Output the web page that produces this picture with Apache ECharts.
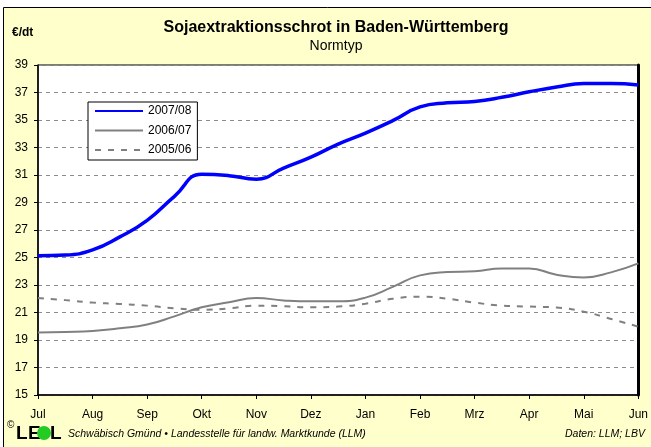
<!DOCTYPE html>
<html>
<head>
<meta charset="utf-8">
<title>Sojaextraktionsschrot</title>
<script src="https://cdn.jsdelivr.net/npm/echarts@6/dist/echarts.min.js"></script>
<style>
  html, body { margin: 0; padding: 0; background: #fff; }
  #chart { width: 651px; height: 447px; }
</style>
</head>
<body>
<div id="chart"></div>
<script>
// half-month steps, Jul .. Jun
var months = ['Jul', '', 'Aug', '', 'Sep', '', 'Okt', '', 'Nov', '', 'Dez', '',
              'Jan', '', 'Feb', '', 'Mrz', '', 'Apr', '', 'Mai', '', 'Jun'];

var s0708 = [25.13, 25.18, 25.55, 26.5, 27.7, 29.45, 31.05, 30.95, 30.7, 31.5, 32.3, 33.25,
             34.05, 34.95, 35.95, 36.25, 36.35, 36.65, 37.05, 37.4, 37.65, 37.65, 37.55];
var s0607 = [19.55, 19.59, 19.66, 19.85, 20.12, 20.72, 21.38, 21.74, 22.05, 21.88, 21.81, 21.81,
             22.08, 22.86, 23.7, 23.94, 24.0, 24.2, 24.2, 23.75, 23.55, 23.92, 24.57];
var s0506 = [22.05, 21.9, 21.72, 21.62, 21.5, 21.3, 21.2, 21.3, 21.5, 21.45, 21.38, 21.43,
             21.64, 22.0, 22.15, 22.0, 21.72, 21.5, 21.43, 21.36, 21.06, 20.53, 19.97];

var seriesNames = ['2007/08', '2006/07', '2005/06'];
var yMin = 15, yMax = 39, yStep = 2;

var font = '"Liberation Sans", Arial, sans-serif';

var chart = echarts.init(document.getElementById('chart'));

option = {
    backgroundColor: '#fff',
    animation: false,
    textStyle: { fontFamily: font },
    graphic: [
        // outer frame
        { type: 'rect', z: -10, shape: { x: 3.5, y: 7.5, width: 700, height: 500 },
          style: { fill: '#FFFFCC', stroke: '#000', lineWidth: 1 } },
        { type: 'text', left: 12, top: 27,
          style: { text: '€/dt', font: 'bold 12px ' + font, fill: '#000' } },
        { type: 'text', left: 7, top: 420,
          style: { text: '©', font: '10px ' + font, fill: '#000' } },
        // LEL logo
        { type: 'text', left: 16, top: 424,
          style: { text: 'L', font: 'bold 19px ' + font, fill: '#000' } },
        { type: 'text', left: 28, top: 424,
          style: { text: 'E', font: 'bold 19px ' + font, fill: '#000' } },
        { type: 'circle', shape: { cx: 44, cy: 433, r: 7 }, style: { fill: '#22CC22' } },
        { type: 'text', left: 50, top: 424,
          style: { text: 'L', font: 'bold 19px ' + font, fill: '#000' } },
        { type: 'text', left: 68, top: 429,
          style: { text: 'Schwäbisch Gmünd • Landesstelle für landw. Marktkunde (LLM)',
                   font: 'italic 10.5px ' + font, fill: '#000' } },
        { type: 'text', left: 565, top: 429,
          style: { text: 'Daten: LLM; LBV', font: 'italic 10.5px ' + font, fill: '#000' } }
    ],
    title: {
        text: 'Sojaextraktionsschrot in Baden-Württemberg',
        subtext: 'Normtyp',
        left: 331,
        top: 15,
        textAlign: 'center',
        itemGap: 3,
        textStyle: { fontSize: 16, fontWeight: 'bold', color: '#000', fontFamily: font },
        subtextStyle: { fontSize: 14, color: '#000', fontFamily: font }
    },
    legend: {
        orient: 'vertical',
        left: 88,
        top: 102,
        data: seriesNames,
        itemWidth: 48,
        itemHeight: 12,
        itemGap: 7.5,
        padding: [3, 6, 4, 6],
        backgroundColor: '#fff',
        borderColor: '#000',
        borderWidth: 1,
        borderRadius: 0,
        itemStyle: { opacity: 0 },
        textStyle: { fontSize: 12, color: '#000', fontFamily: font }
    },
    grid: {
        left: 38, right: 12, top: 65, bottom: 52,
        show: true, backgroundColor: '#fff', borderColor: '#000', borderWidth: 1
    },
    xAxis: {
        type: 'category',
        data: months,
        boundaryGap: false,
        axisLine: { lineStyle: { color: '#000', width: 1.5 } },
        axisTick: { interval: 1, length: 4, lineStyle: { color: '#000' } },
        axisLabel: { interval: 0, margin: 14, color: '#000', fontSize: 12, fontFamily: font },
        splitLine: { show: false }
    },
    yAxis: [{
        type: 'value',
        min: yMin,
        max: yMax,
        interval: yStep,
        axisLine: { show: true, lineStyle: { color: '#000', width: 1.5 } },
        axisTick: { show: true, length: 4, lineStyle: { color: '#000' } },
        axisLabel: { margin: 10, color: '#000', fontSize: 12, fontFamily: font },
        splitLine: { lineStyle: { color: '#8c8c8c', type: [4, 4], width: 1 } }
    }, {
        type: 'value',
        position: 'right',
        min: yMin,
        max: yMax,
        interval: yStep,
        axisLine: { show: true, lineStyle: { color: '#000', width: 3 } },
        axisTick: { show: false },
        axisLabel: { show: false },
        splitLine: { show: false }
    }],
    series: [{
        name: seriesNames[0],
        type: 'line',
        data: s0708,
        smooth: 0.5,
        symbol: 'none',
        z: 5,
        itemStyle: { color: '#0000FF' },
        lineStyle: { color: '#0000FF', width: 3.5 }
    }, {
        name: seriesNames[1],
        type: 'line',
        data: s0607,
        smooth: 0.5,
        symbol: 'none',
        z: 4,
        itemStyle: { color: '#808080' },
        lineStyle: { color: '#808080', width: 2 }
    }, {
        name: seriesNames[2],
        type: 'line',
        data: s0506,
        smooth: 0.5,
        symbol: 'none',
        z: 3,
        itemStyle: { color: '#808080' },
        lineStyle: { color: '#808080', width: 2, type: [6, 7] }
    }]
};

chart.setOption(option);
</script>
</body>
</html>
